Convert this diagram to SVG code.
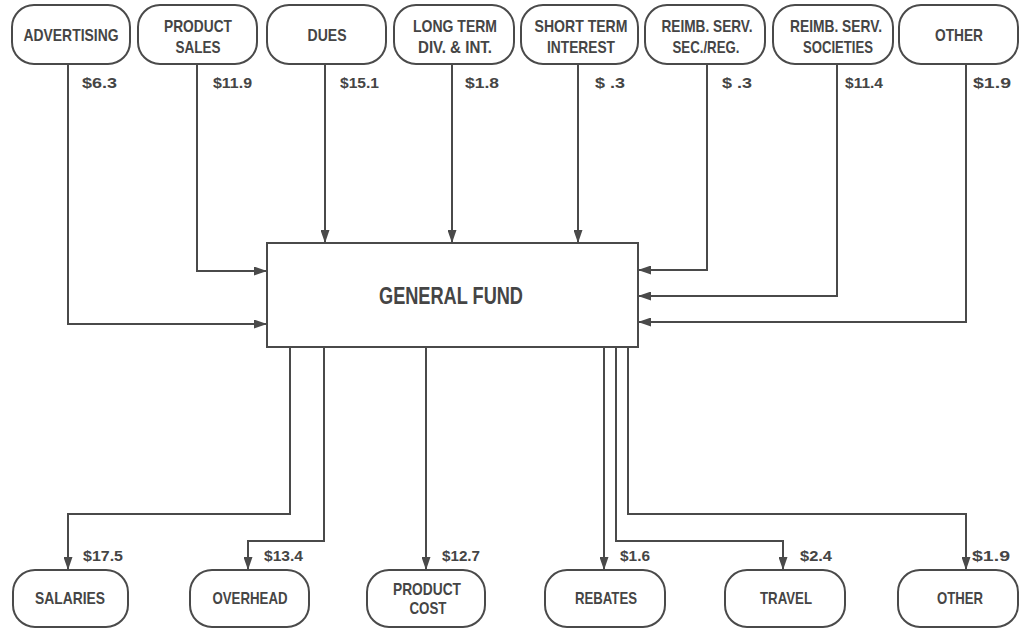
<svg xmlns="http://www.w3.org/2000/svg" width="1020" height="629" viewBox="0 0 1020 629">
<defs>
<marker id="ah" markerUnits="userSpaceOnUse" markerWidth="13" markerHeight="9" refX="13" refY="4.5" orient="auto">
<path d="M0,0 L13,4.5 L0,9 z" fill="#4a4a4a"/>
</marker>
<style>
.node rect{fill:#fff;stroke:#4a4a4a;stroke-width:2}
.lbl{font-family:"Liberation Sans",Arial,sans-serif;font-weight:bold;font-size:17px;fill:#454545;text-anchor:middle}
.val{font-family:"Liberation Sans",Arial,sans-serif;font-weight:bold;font-size:15px;fill:#454545}
.big{font-family:"Liberation Sans",Arial,sans-serif;font-weight:bold;font-size:23px;fill:#454545;text-anchor:middle}
#connectors path{fill:none;stroke:#4a4a4a;stroke-width:2;marker-end:url(#ah)}
</style>
</defs>
<rect width="1020" height="629" fill="#fff"/>
<g id="connectors">
<path d="M68,64 V324 H267"/>
<path d="M197,64 V271 H267"/>
<path d="M325,64 V243"/>
<path d="M452,64 V243"/>
<path d="M578,64 V243"/>
<path d="M707,64 V270 H638"/>
<path d="M837,64 V296 H638"/>
<path d="M966,64 V322 H638"/>
<path d="M290,347 V514 H68 V570"/>
<path d="M324,347 V541 H248 V570"/>
<path d="M426,347 V570"/>
<path d="M604,347 V570"/>
<path d="M616,347 V541 H783 V570"/>
<path d="M628,347 V514 H966 V570"/>
</g>
<g id="values">
<text class="val" x="82" y="88" textLength="35" lengthAdjust="spacingAndGlyphs">$6.3</text>
<text class="val" x="213" y="88" textLength="39" lengthAdjust="spacingAndGlyphs">$11.9</text>
<text class="val" x="340" y="88" textLength="39" lengthAdjust="spacingAndGlyphs">$15.1</text>
<text class="val" x="465" y="88" textLength="34" lengthAdjust="spacingAndGlyphs">$1.8</text>
<text class="val" x="595" y="88" textLength="30" lengthAdjust="spacingAndGlyphs">$ .3</text>
<text class="val" x="722" y="88" textLength="30" lengthAdjust="spacingAndGlyphs">$ .3</text>
<text class="val" x="845" y="88" textLength="38" lengthAdjust="spacingAndGlyphs">$11.4</text>
<text class="val" x="973" y="88" textLength="38" lengthAdjust="spacingAndGlyphs">$1.9</text>
<text class="val" x="83" y="561" textLength="40" lengthAdjust="spacingAndGlyphs">$17.5</text>
<text class="val" x="264" y="561" textLength="39" lengthAdjust="spacingAndGlyphs">$13.4</text>
<text class="val" x="442" y="561" textLength="38" lengthAdjust="spacingAndGlyphs">$12.7</text>
<text class="val" x="620" y="561" textLength="30" lengthAdjust="spacingAndGlyphs">$1.6</text>
<text class="val" x="800" y="561" textLength="32" lengthAdjust="spacingAndGlyphs">$2.4</text>
<text class="val" x="972" y="561" textLength="38" lengthAdjust="spacingAndGlyphs">$1.9</text>
</g>
<g id="advertising" class="node"><rect x="12" y="5" width="118" height="59" rx="22"/><text class="lbl" x="71" y="41" textLength="95" lengthAdjust="spacingAndGlyphs">ADVERTISING</text></g>
<g id="product-sales" class="node"><rect x="138" y="5" width="119" height="59" rx="22"/><text class="lbl" x="198" y="32" textLength="68" lengthAdjust="spacingAndGlyphs">PRODUCT</text><text class="lbl" x="198" y="53" textLength="45" lengthAdjust="spacingAndGlyphs">SALES</text></g>
<g id="dues" class="node"><rect x="267" y="5" width="119" height="59" rx="22"/><text class="lbl" x="327" y="41" textLength="39" lengthAdjust="spacingAndGlyphs">DUES</text></g>
<g id="long-term" class="node"><rect x="394" y="5" width="120" height="59" rx="22"/><text class="lbl" x="455" y="32" textLength="84" lengthAdjust="spacingAndGlyphs">LONG TERM</text><text class="lbl" x="455" y="53" textLength="74" lengthAdjust="spacingAndGlyphs">DIV. &amp; INT.</text></g>
<g id="short-term" class="node"><rect x="521" y="5" width="117" height="59" rx="22"/><text class="lbl" x="581" y="32" textLength="93" lengthAdjust="spacingAndGlyphs">SHORT TERM</text><text class="lbl" x="581" y="53" textLength="68" lengthAdjust="spacingAndGlyphs">INTEREST</text></g>
<g id="reimb-sec" class="node"><rect x="645" y="5" width="120" height="59" rx="22"/><text class="lbl" x="707" y="32" textLength="91" lengthAdjust="spacingAndGlyphs">REIMB. SERV.</text><text class="lbl" x="706" y="53" textLength="67" lengthAdjust="spacingAndGlyphs">SEC./REG.</text></g>
<g id="reimb-soc" class="node"><rect x="773" y="5" width="120" height="59" rx="22"/><text class="lbl" x="836" y="32" textLength="92" lengthAdjust="spacingAndGlyphs">REIMB. SERV.</text><text class="lbl" x="838" y="53" textLength="70" lengthAdjust="spacingAndGlyphs">SOCIETIES</text></g>
<g id="other-in" class="node"><rect x="899" y="5" width="119" height="59" rx="22"/><text class="lbl" x="959" y="41" textLength="48" lengthAdjust="spacingAndGlyphs">OTHER</text></g>
<g id="general-fund" class="node"><rect x="267" y="243" width="371" height="104" rx="0"/><text class="big" x="451" y="304" textLength="144" lengthAdjust="spacingAndGlyphs">GENERAL FUND</text></g>
<g id="salaries" class="node"><rect x="13" y="570" width="115" height="57" rx="22"/><text class="lbl" x="70" y="604" textLength="70" lengthAdjust="spacingAndGlyphs">SALARIES</text></g>
<g id="overhead" class="node"><rect x="190" y="570" width="119" height="57" rx="22"/><text class="lbl" x="250" y="604" textLength="75" lengthAdjust="spacingAndGlyphs">OVERHEAD</text></g>
<g id="product-cost" class="node"><rect x="367" y="570" width="118" height="57" rx="22"/><text class="lbl" x="427" y="595" textLength="68" lengthAdjust="spacingAndGlyphs">PRODUCT</text><text class="lbl" x="428" y="614" textLength="37" lengthAdjust="spacingAndGlyphs">COST</text></g>
<g id="rebates" class="node"><rect x="545" y="570" width="120" height="57" rx="22"/><text class="lbl" x="606" y="604" textLength="62" lengthAdjust="spacingAndGlyphs">REBATES</text></g>
<g id="travel" class="node"><rect x="725" y="570" width="120" height="57" rx="22"/><text class="lbl" x="786" y="604" textLength="52" lengthAdjust="spacingAndGlyphs">TRAVEL</text></g>
<g id="other-out" class="node"><rect x="898" y="570" width="120" height="57" rx="22"/><text class="lbl" x="960" y="604" textLength="46" lengthAdjust="spacingAndGlyphs">OTHER</text></g>
</svg>
